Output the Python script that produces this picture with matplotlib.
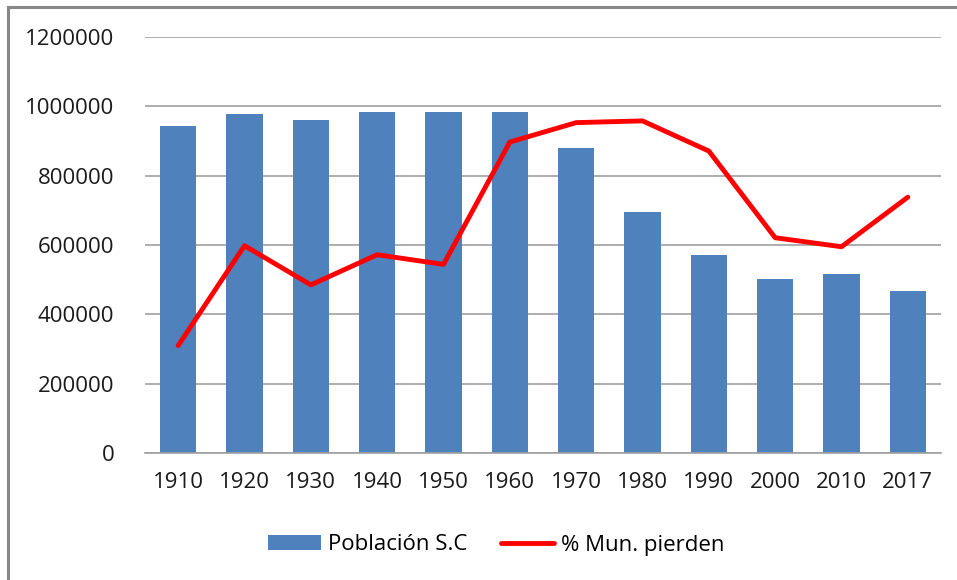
import matplotlib
matplotlib.use('Agg')
import matplotlib.pyplot as plt
from matplotlib.lines import Line2D
import numpy as np

# Data
years = ['1910', '1920', '1930', '1940', '1950', '1960',
         '1970', '1980', '1990', '2000', '2010', '2017']
poblacion = [942000, 979000, 960000, 983000, 983000, 983000,
             879000, 694000, 571000, 501000, 515000, 467000]
pct_pierden = [31.0, 59.8, 48.5, 57.2, 54.4, 89.7,
               95.3, 95.8, 87.1, 62.1, 59.5, 73.8]

plt.rcParams['font.family'] = ['Open Sans', 'DejaVu Sans']

W, H = 957, 580
fig = plt.figure(figsize=(W / 100, H / 100), dpi=100)

# plot area in pixels: left 145, right 941, top 37, bottom 453
ax = fig.add_axes([145 / W, 1 - 453 / H, (941 - 145) / W, (453 - 37) / H])
x = np.arange(len(years))
ax.bar(x, poblacion, width=0.55, color='#4F81BD', zorder=2, label='Población S.C')
ax.set_xlim(-0.5, len(years) - 0.5)
ax.set_ylim(0, 1200000)
ax.set_yticks(range(0, 1200001, 200000))
ax.set_yticklabels([str(v) for v in range(0, 1200001, 200000)])
ax.set_xticks(x)
ax.set_xticklabels(years)
ax.yaxis.grid(True, color='#A0A0A0', linewidth=1.2, zorder=0)
for s in ['top', 'right', 'left']:
    ax.spines[s].set_visible(False)
ax.spines['bottom'].set_color('#A0A0A0')
ax.spines['bottom'].set_linewidth(1.2)
ax.tick_params(axis='both', length=0, labelsize=16, colors='#1a1a1a')
ax.tick_params(axis='y', pad=22)
ax.tick_params(axis='x', pad=14)

# secondary (hidden) axis for percentage line
ax2 = ax.twinx()
ax2.plot(x, pct_pierden, color='#FF0000', linewidth=3.5, zorder=3,
         solid_capstyle='round', label='% Mun. pierden')
ax2.set_ylim(0, 120)
ax2.axis('off')

h1, l1 = ax.get_legend_handles_labels()
h2, l2 = ax2.get_legend_handles_labels()
fig.legend(h1 + h2, l1 + l2, loc='center', bbox_to_anchor=(496 / W, 1 - 545 / H),
           ncol=2, frameon=False, fontsize=16, handlelength=2.4, handleheight=0.65,
           handletextpad=0.3, columnspacing=1.5)

# outer chart frame (left and top only visible)
fig.add_artist(Line2D([8 / W, 8 / W], [0, 1 - 7 / H], transform=fig.transFigure,
                      color='#878787', linewidth=2.2))
fig.add_artist(Line2D([8 / W, 1], [1 - 7 / H, 1 - 7 / H], transform=fig.transFigure,
                      color='#878787', linewidth=2.2))

fig.savefig('out.png', dpi=100)
